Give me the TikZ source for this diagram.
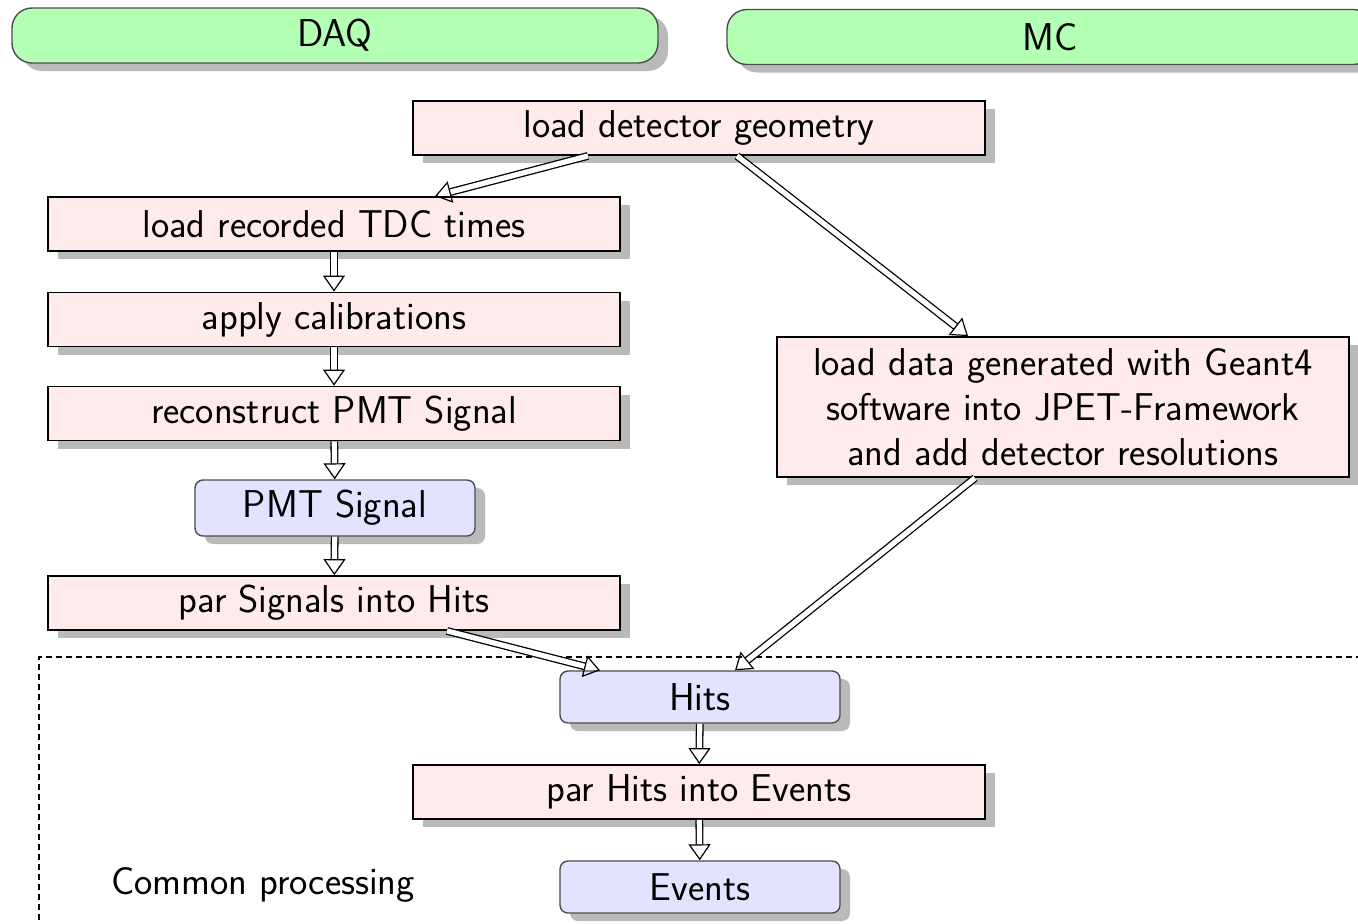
\documentclass[tikz,border=0pt]{standalone}
\usepackage{fontspec}
\usetikzlibrary{shadows,arrows.meta}
\definecolor{hdrgreen}{HTML}{B3FFB3}
\definecolor{steppink}{HTML}{FFEBEB}
\definecolor{datablue}{HTML}{E3E3FF}
\begin{document}
\begin{tikzpicture}[x=0.5pt,y=-0.5pt,
  font=\sffamily\fontsize{19.4}{22.5}\selectfont,
  shade/.style={drop shadow={shadow xshift=5pt,shadow yshift=-4pt,fill=black!27,opacity=1}},
  header/.style={draw=black!70, line width=0.7pt, fill=hdrgreen, rounded corners=10pt,
    minimum width=323pt, minimum height=27.5pt, shade},
  proc/.style={draw=black, line width=0.9pt, fill=steppink, minimum width=286pt,
    minimum height=27pt, inner sep=2pt, align=center, shade},
  dataobj/.style={draw=black!70, line width=0.7pt, fill=datablue, rounded corners=4pt,
    minimum width=140pt, minimum height=26pt, shade},
  flow/.style={double=white, double distance=2.6pt, line width=0.65pt,
    -{Triangle[open,length=8pt,width=11pt,line width=0.6pt]}},
  region/.style={line width=0.6pt, dash pattern=on 3pt off 2pt},
]
\clip (0,0) rectangle (1358,923);

% frame of the shared part of the chain
\draw[region] (39,1000) -- (39,657) -- (1420,657);

% source headers
\node[header] (daq) at (335,35.5) {DAQ};
\node[header] (mc) at (1050,37) {MC};

% processing steps
\node[proc] (geom) at (699,128) {load detector geometry};
\node[proc] (tdc) at (334,224) {load recorded TDC times};
\node[proc] (calib) at (334,319.5) {apply calibrations};
\node[proc] (recon) at (334,413.5) {reconstruct PMT Signal};
\node[dataobj, minimum height=28pt] (pmt) at (335,508) {PMT Signal};
\node[proc] (pairsig) at (334,603) {par Signals into Hits};
\node[proc, minimum height=70pt] (mcload) at (1063,407)
  {load data generated with Geant4\\software into JPET-Framework\\and add detector resolutions};
\node[dataobj] (hits) at (700,697) {Hits};
\node[proc] (pairhit) at (699,792) {par Hits into Events};
\node[dataobj] (events) at (700,887) {Events};
\node (common) at (263,885) {Common processing};

% connections
\draw[flow] ([xshift=-55.5pt]geom.south) -- ([xshift=50.5pt]tdc.north);
\draw[flow] ([xshift=19pt]geom.south) -- ([xshift=-47.5pt]mcload.north);
\draw[flow] (tdc) -- (calib);
\draw[flow] (calib) -- (recon);
\draw[flow] (recon) -- (pmt);
\draw[flow] (pmt) -- (pairsig);
\draw[flow] ([xshift=56.5pt]pairsig.south) -- ([xshift=-50pt]hits.north);
\draw[flow] ([xshift=-44pt]mcload.south) -- ([xshift=17.5pt]hits.north);
\draw[flow] (hits) -- (pairhit);
\draw[flow] (pairhit) -- (events);
\end{tikzpicture}
\end{document}
